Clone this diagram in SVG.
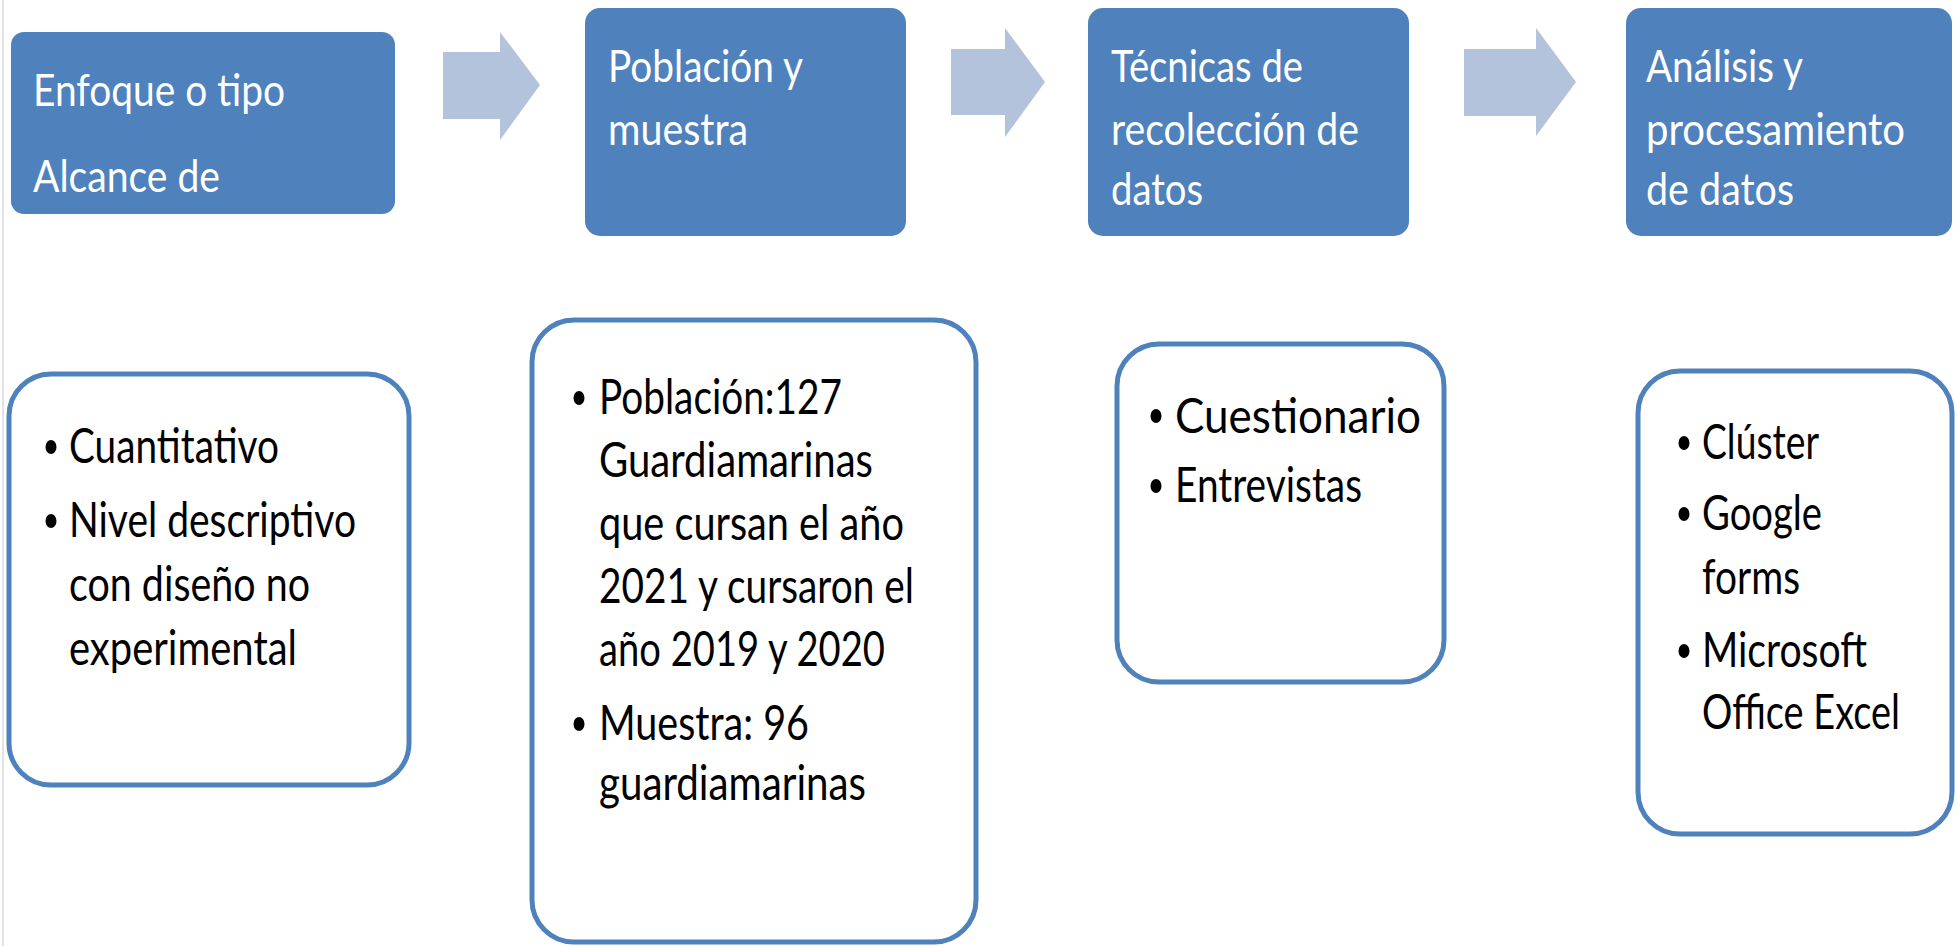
<svg xmlns="http://www.w3.org/2000/svg" width="1955" height="946" viewBox="0 0 1955 946">
<style>
.hd{fill:#4F81BD;}
.hdt{font-family:Lato,"Liberation Sans",sans-serif;font-size:44px;fill:#FFFFFF;}
.bx{fill:#FFFFFF;stroke:#4F81BD;stroke-width:5;}
.bt{font-family:Lato,"Liberation Sans",sans-serif;font-size:49px;fill:#000000;}
.bul{fill:#000000;}
.arr{fill:#B3C3DC;}
</style>
<rect width="1955" height="946" fill="#FFFFFF"/>
<line x1="3" y1="0" x2="3" y2="946" stroke="#E3E3E3" stroke-width="2"/>
<g id="connectors">
<path class="arr" d="M443,52 H500 V32 L540,85 L500,140 V119 H443 Z"/>
<path class="arr" d="M951,49 H1005 V28 L1045,82 L1005,137 V115 H951 Z"/>
<path class="arr" d="M1464,49 H1536 V28 L1576,82 L1536,136 V116 H1464 Z"/>
</g>
<g id="head1">
<rect class="hd" x="11" y="32" width="384" height="182" rx="13"/>
<text class="hdt" x="33" y="106" textLength="252" lengthAdjust="spacingAndGlyphs">Enfoque o tipo</text>
<text class="hdt" x="33" y="192" textLength="187" lengthAdjust="spacingAndGlyphs">Alcance de</text>
</g>
<g id="head2">
<rect class="hd" x="585" y="8" width="321" height="228" rx="15"/>
<text class="hdt" x="608" y="82" textLength="195" lengthAdjust="spacingAndGlyphs">Población y</text>
<text class="hdt" x="608" y="145" textLength="140" lengthAdjust="spacingAndGlyphs">muestra</text>
</g>
<g id="head3">
<rect class="hd" x="1088" y="8" width="321" height="228" rx="15"/>
<text class="hdt" x="1111" y="82" textLength="192" lengthAdjust="spacingAndGlyphs">Técnicas de</text>
<text class="hdt" x="1111" y="145" textLength="248" lengthAdjust="spacingAndGlyphs">recolección de</text>
<text class="hdt" x="1111" y="205" textLength="92" lengthAdjust="spacingAndGlyphs">datos</text>
</g>
<g id="head4">
<rect class="hd" x="1626" y="8" width="326" height="228" rx="15"/>
<text class="hdt" x="1646" y="82" textLength="157" lengthAdjust="spacingAndGlyphs">Análisis y</text>
<text class="hdt" x="1646" y="145" textLength="259" lengthAdjust="spacingAndGlyphs">procesamiento</text>
<text class="hdt" x="1646" y="205" textLength="148" lengthAdjust="spacingAndGlyphs">de datos</text>
</g>
<g id="box1">
<rect class="bx" x="9" y="374" width="400" height="411" rx="42"/>
<ellipse class="bul" cx="51" cy="447" rx="5.5" ry="7"/>
<text class="bt" x="69" y="463" textLength="210" lengthAdjust="spacingAndGlyphs">Cuantitativo</text>
<ellipse class="bul" cx="51" cy="521" rx="5.5" ry="7"/>
<text class="bt" x="69" y="537" textLength="287" lengthAdjust="spacingAndGlyphs">Nivel descriptivo</text>
<text class="bt" x="69" y="601" textLength="241" lengthAdjust="spacingAndGlyphs">con diseño no</text>
<text class="bt" x="69" y="665" textLength="228" lengthAdjust="spacingAndGlyphs">experimental</text>
</g>
<g id="box2">
<rect class="bx" x="532" y="320" width="444" height="622" rx="42"/>
<ellipse class="bul" cx="579" cy="398" rx="5.5" ry="7"/>
<text class="bt" x="599" y="414" textLength="243" lengthAdjust="spacingAndGlyphs">Población:127</text>
<text class="bt" x="599" y="477" textLength="274" lengthAdjust="spacingAndGlyphs">Guardiamarinas</text>
<text class="bt" x="599" y="540" textLength="305" lengthAdjust="spacingAndGlyphs">que cursan el año</text>
<text class="bt" x="599" y="603" textLength="315" lengthAdjust="spacingAndGlyphs">2021 y cursaron el</text>
<text class="bt" x="599" y="666" textLength="286" lengthAdjust="spacingAndGlyphs">año 2019 y 2020</text>
<ellipse class="bul" cx="579" cy="724" rx="5.5" ry="7"/>
<text class="bt" x="599" y="740" textLength="210" lengthAdjust="spacingAndGlyphs">Muestra: 96</text>
<text class="bt" x="599" y="800" textLength="267" lengthAdjust="spacingAndGlyphs">guardiamarinas</text>
</g>
<g id="box3">
<rect class="bx" x="1117" y="344" width="327" height="338" rx="42"/>
<ellipse class="bul" cx="1156" cy="416" rx="5.5" ry="7"/>
<text class="bt" x="1175" y="433" font-size="53" textLength="246" lengthAdjust="spacingAndGlyphs">Cuestionario</text>
<ellipse class="bul" cx="1156" cy="486" rx="5.5" ry="7"/>
<text class="bt" x="1175" y="502" textLength="187" lengthAdjust="spacingAndGlyphs">Entrevistas</text>
</g>
<g id="box4">
<rect class="bx" x="1638" y="371" width="314" height="463" rx="42"/>
<ellipse class="bul" cx="1684" cy="443" rx="5.5" ry="7"/>
<text class="bt" x="1702" y="459" textLength="117" lengthAdjust="spacingAndGlyphs">Clúster</text>
<ellipse class="bul" cx="1684" cy="514" rx="5.5" ry="7"/>
<text class="bt" x="1702" y="530" textLength="120" lengthAdjust="spacingAndGlyphs">Google</text>
<text class="bt" x="1702" y="594" textLength="98" lengthAdjust="spacingAndGlyphs">forms</text>
<ellipse class="bul" cx="1684" cy="651" rx="5.5" ry="7"/>
<text class="bt" x="1702" y="667" textLength="165" lengthAdjust="spacingAndGlyphs">Microsoft</text>
<text class="bt" x="1702" y="729" textLength="198" lengthAdjust="spacingAndGlyphs">Office Excel</text>
</g>
</svg>
